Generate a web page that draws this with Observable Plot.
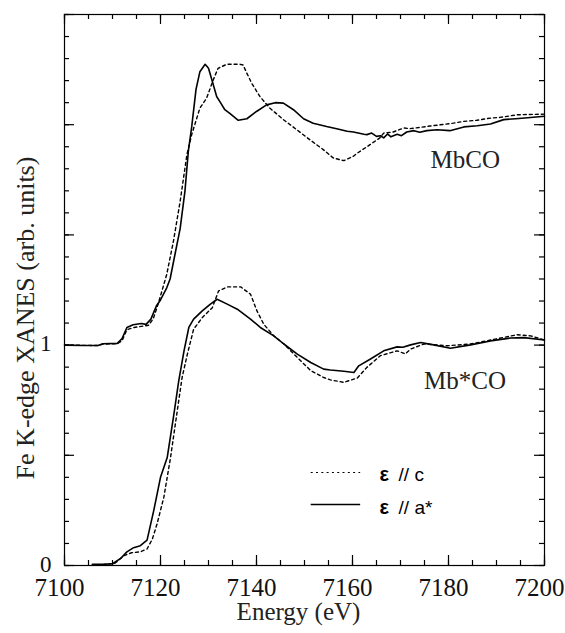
<!DOCTYPE html>
<html>
<head>
<meta charset="utf-8">
<script src="https://cdn.jsdelivr.net/npm/d3@7"></script>
<script src="https://cdn.jsdelivr.net/npm/@observablehq/plot@0.6"></script>
<style>
  html, body { margin: 0; padding: 0; background: #fff; }
  #chart svg { display: block; }
</style>
</head>
<body>
<div id="chart"></div>
<script>
// ---- Data ----
// MbCO, polarization ε // a* (solid)
const mbcoA_E = [7100,7104,7107,7108,7111,7112,7113,7114.3,7116,7117,7118,7119.2,7120,7121.3,7122,7123,7124.1,7125.1,7125.8,7126.5,7127.4,7128.2,7129.3,7130,7130.7,7131.7,7132.5,7133.4,7134.5,7136.2,7138,7140,7142.1,7143.9,7145.6,7147.7,7149.8,7151.8,7154.6,7156.7,7158.9,7160.2,7162.4,7163,7164,7165,7165.8,7166.5,7167.3,7168,7169.3,7170.2,7171.3,7172.8,7174,7175.5,7177.6,7180.3,7183.2,7186,7188.75,7191.5,7194,7197.1,7200];
const mbcoA_V = [1.000,0.998,0.998,1.006,1.008,1.030,1.080,1.092,1.098,1.094,1.118,1.180,1.205,1.260,1.300,1.410,1.530,1.700,1.880,1.990,2.160,2.240,2.274,2.256,2.204,2.128,2.100,2.068,2.050,2.020,2.027,2.060,2.090,2.100,2.098,2.068,2.027,2.007,1.992,1.982,1.970,1.967,1.957,1.955,1.962,1.947,1.950,1.940,1.958,1.945,1.957,1.950,1.967,1.973,1.966,1.973,1.977,1.973,1.990,1.995,2.003,2.023,2.027,2.033,2.038];
// MbCO, polarization ε // c (dotted)
const mbcoC_E = [7100,7107,7108,7111,7112,7113,7114.5,7116,7117.5,7118.5,7119.5,7121.3,7122.7,7124.1,7125.5,7126.5,7128.2,7129.6,7131,7132,7133.8,7136.6,7137.2,7138,7139,7140.7,7142.8,7145.6,7148.4,7151.1,7153.9,7156,7158.2,7160.2,7161,7163,7165.7,7166.5,7168.5,7170.7,7172,7176.2,7181,7183.2,7185.9,7188.75,7190.7,7194.3,7200];
const mbcoC_V = [1.000,0.998,1.005,1.006,1.020,1.070,1.080,1.085,1.090,1.120,1.186,1.321,1.472,1.653,1.864,1.955,2.075,2.120,2.204,2.256,2.274,2.274,2.271,2.233,2.188,2.128,2.075,2.023,1.977,1.932,1.887,1.849,1.837,1.857,1.871,1.900,1.940,1.962,1.967,1.985,1.982,1.994,2.007,2.015,2.020,2.030,2.033,2.045,2.048];
// Mb*CO, polarization ε // a* (solid)
const mbscoA_E = [7105.8,7108,7110,7111.7,7113,7114.4,7115.8,7117.2,7118.6,7120,7121.4,7122.8,7123.8,7124.9,7125.9,7126.9,7128.7,7130.4,7131.8,7133.9,7136,7138.75,7140.8,7143.6,7145.7,7148.5,7151.3,7154,7155.4,7158.2,7160.3,7161.3,7163.75,7166.5,7169.3,7170.5,7172.1,7174.2,7176.9,7180.4,7184.6,7188.75,7192.9,7195.7,7200];
const mbscoA_V = [0.005,0.005,0.008,0.032,0.062,0.081,0.090,0.115,0.250,0.400,0.490,0.688,0.838,0.974,1.080,1.118,1.155,1.186,1.208,1.186,1.163,1.118,1.080,1.042,1.005,0.959,0.921,0.891,0.887,0.881,0.876,0.906,0.937,0.974,0.992,0.990,1.001,1.012,1.001,0.986,1.001,1.019,1.032,1.034,1.023];
// Mb*CO, polarization ε // c (dotted)
const mbscoC_E = [7108,7110.5,7112.4,7114,7115.8,7117.2,7118.3,7119.3,7120.7,7122.1,7123.5,7124.5,7125.6,7126.9,7128.7,7130.8,7132.1,7133.9,7136.7,7138.75,7140.1,7141.5,7143.6,7145.7,7148.5,7151.3,7154,7155.4,7158.2,7161,7163,7165.8,7169.3,7171,7172.1,7174.9,7179.7,7184.6,7188.75,7194.3,7197.1,7200];
const mbscoC_V = [0.004,0.010,0.045,0.058,0.062,0.075,0.120,0.190,0.310,0.491,0.703,0.853,0.959,1.072,1.125,1.170,1.246,1.264,1.264,1.231,1.155,1.095,1.042,1.005,0.944,0.884,0.853,0.842,0.831,0.851,0.899,0.952,0.974,0.960,0.982,1.005,0.997,1.005,1.023,1.047,1.042,1.023];

// Axis ticks
const xMajor = [7100, 7120, 7140, 7160, 7180, 7200];
const xMinor = d3.range(7100, 7200.1, 5);
const yMajor = [0, 0.5, 1, 1.5, 2, 2.5];
const yMinor = d3.range(0, 2.51, 0.1).map(v => +v.toFixed(2));
const yLabels = [0, 1];

// Annotations (data coordinates)
const sampleNames = ["MbCO", "Mb*CO"];
const sampleNameE = [7176.25, 7174.9];
const sampleNameV = [1.841, 0.839];
const legendNames = ["// c", "// a*"];
const legendV = [0.422, 0.277];
const legendTextV = [0.411, 0.263];
const legendLineE = [7151.4, 7161.7];
const legendEpsE = 7165.6;
const legendTextE = 7169.6;

// ---- Build ----
const zip = (E, V) => E.map((e, i) => ({e, v: V[i]}));
const W = 565, H = 633;
const mL = 64, mR = 21, mT = 14, mB = 68;
const fw = W - mL - mR, fh = H - mT - mB;
const serif = "'Liberation Serif', 'Times New Roman', Times, serif";
const sans = "'Liberation Sans', Arial, Helvetica, sans-serif";
const solid = {stroke: "#000", strokeWidth: 1.6};
const dotted = {stroke: "#000", strokeWidth: 1.4, strokeDasharray: "3,3"};

const chart = Plot.plot({
  width: W, height: H,
  marginLeft: mL, marginRight: mR, marginTop: mT, marginBottom: mB,
  x: {domain: [7100, 7200], axis: null},
  y: {domain: [0, 2.5], axis: null},
  style: "background: #fff; color: #000; font-family: 'Liberation Serif', 'Times New Roman', serif;",
  marks: [
    Plot.frame({stroke: "#000", strokeWidth: 1.2}),
    // inward ticks
    Plot.tickX(xMinor, {x: d => d, insetTop: fh - 5, strokeWidth: 1.2}),
    Plot.tickX(xMajor, {x: d => d, insetTop: fh - 10, strokeWidth: 1.2}),
    Plot.tickX(xMinor, {x: d => d, insetBottom: fh - 5, strokeWidth: 1.2}),
    Plot.tickX(xMajor, {x: d => d, insetBottom: fh - 10, strokeWidth: 1.2}),
    Plot.tickY(yMinor, {y: d => d, insetRight: fw - 5, strokeWidth: 1.2}),
    Plot.tickY(yMajor, {y: d => d, insetRight: fw - 10, strokeWidth: 1.2}),
    Plot.tickY(yMinor, {y: d => d, insetLeft: fw - 5, strokeWidth: 1.2}),
    Plot.tickY(yMajor, {y: d => d, insetLeft: fw - 10, strokeWidth: 1.2}),
    // tick labels
    Plot.text(xMajor, {x: d => d, text: d => String(d), frameAnchor: "bottom", dy: 30, dx: -5,
      textAnchor: "middle", fontSize: 25, fontFamily: serif, fill: "#111"}),
    Plot.text(yLabels, {y: d => d, text: d => String(d), frameAnchor: "left", dx: -13, dy: -1,
      textAnchor: "end", fontSize: 23, fontFamily: serif, fill: "#111"}),
    // axis labels
    Plot.text(["Energy (eV)"], {text: d => d, frameAnchor: "bottom", dy: 54, dx: -6,
      textAnchor: "middle", fontSize: 25, fontFamily: serif, fill: "#222"}),
    Plot.text(["Fe K-edge XANES (arb. units)"], {text: d => d, frameAnchor: "left", rotate: -90,
      textAnchor: "middle", dx: -39, dy: 28, fontSize: 26, fontFamily: serif, fill: "#222"}),
    // spectra
    Plot.line(zip(mbcoC_E, mbcoC_V), {x: "e", y: "v", ...dotted}),
    Plot.line(zip(mbcoA_E, mbcoA_V), {x: "e", y: "v", ...solid}),
    Plot.line(zip(mbscoC_E, mbscoC_V), {x: "e", y: "v", ...dotted}),
    Plot.line(zip(mbscoA_E, mbscoA_V), {x: "e", y: "v", ...solid}),
    // sample labels
    Plot.text(sampleNames, {x: (d, i) => sampleNameE[i], y: (d, i) => sampleNameV[i], text: d => d,
      textAnchor: "start", fontSize: 25, fontFamily: serif, fill: "#222"}),
    // legend
    Plot.ruleY([legendV[0]], {y: d => d, x1: legendLineE[0], x2: legendLineE[1], stroke: "#000", strokeWidth: 1.2, strokeDasharray: "2,3.3"}),
    Plot.ruleY([legendV[1]], {y: d => d, x1: legendLineE[0], x2: legendLineE[1], ...solid}),
    Plot.text(legendTextV, {x: legendEpsE, y: d => d, text: () => "ε", textAnchor: "start",
      fontSize: 20, fontWeight: "bold", fontFamily: sans, fill: "#000"}),
    Plot.text(legendNames, {x: legendTextE, y: (d, i) => legendTextV[i], text: d => d, textAnchor: "start",
      fontSize: 19, fontFamily: sans, fill: "#000"})
  ]
});
document.getElementById("chart").appendChild(chart);
</script>
</body>
</html>
